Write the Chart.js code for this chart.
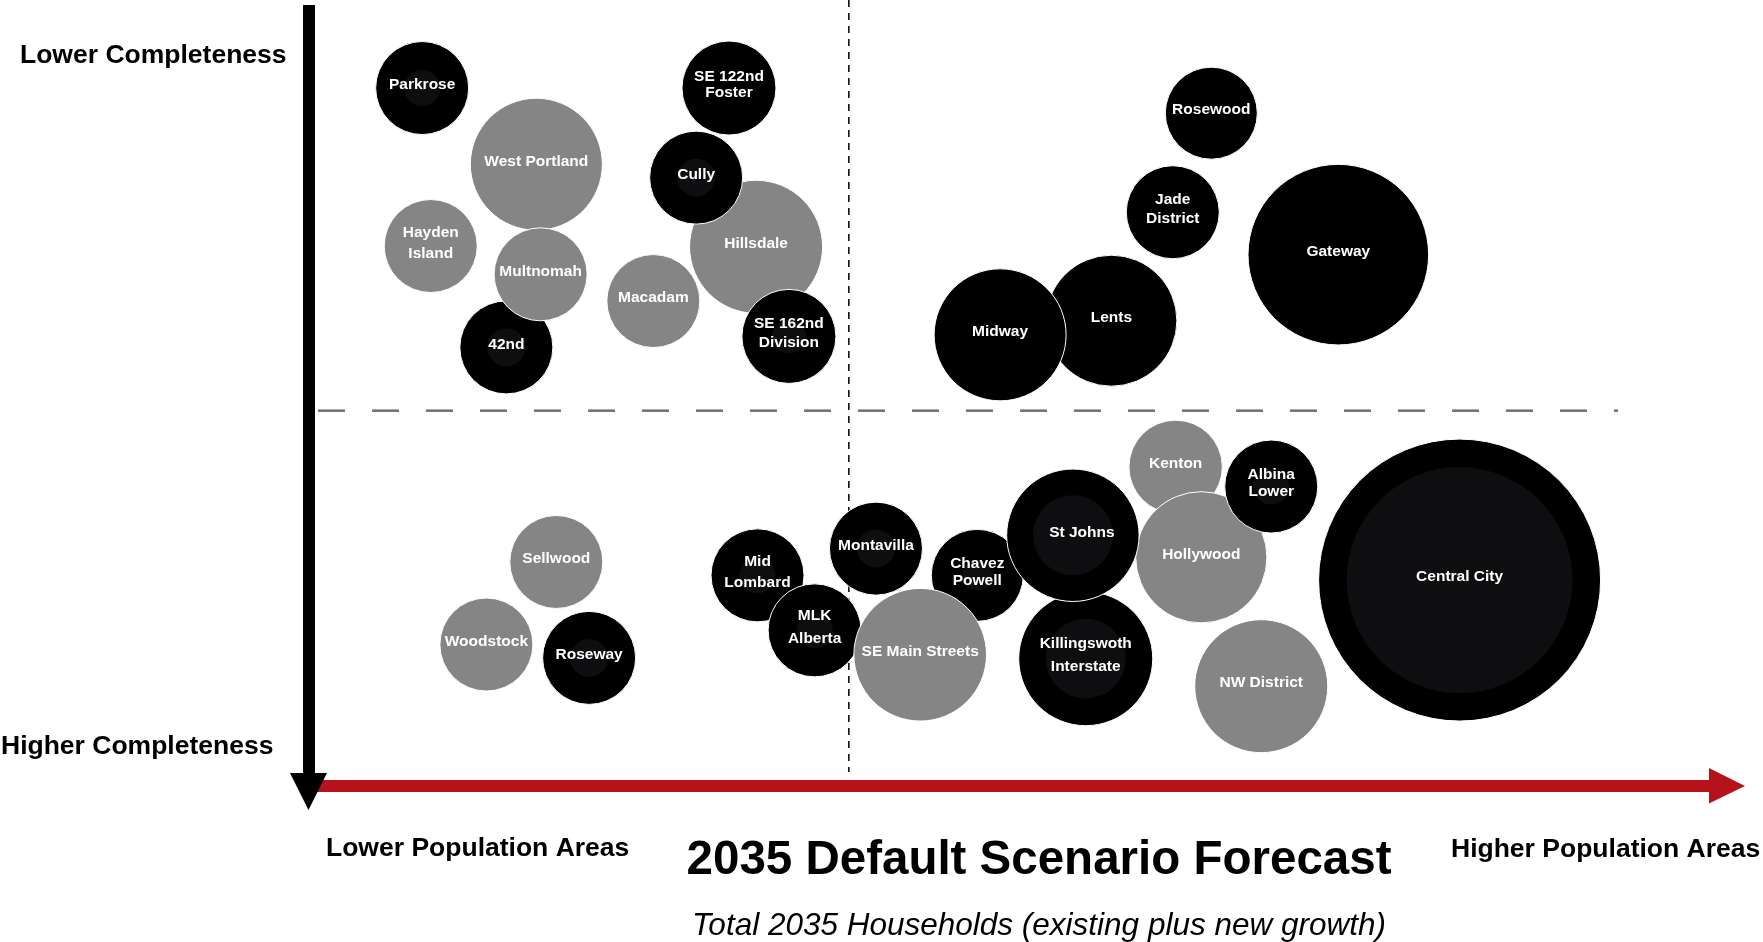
<!DOCTYPE html>
<html>
<head>
<meta charset="utf-8">
<title>2035 Default Scenario Forecast</title>
<script src="https://cdn.jsdelivr.net/npm/chart.js@4.4.1/dist/chart.umd.min.js"></script>
<style>
  html, body { margin: 0; padding: 0; background: #fff; }
  #wrap { width: 1763px; height: 942px; position: relative; }
</style>
</head>
<body>
<div id="wrap"><canvas id="chartForecast"></canvas></div>
<script>
// listed in drawing order (later ones sit on top)
const areas = [
  'Kenton', 'Hollywood', 'Albina\nLower', 'Killingswoth\nInterstate', 'Chavez\nPowell',
  'St Johns', 'Montavilla', 'Mid\nLombard', 'MLK\nAlberta', 'SE Main Streets',
  'NW District', 'Central City', 'Sellwood', 'Woodstock', 'Roseway',
  'Hillsdale', 'Macadam', 'Cully', 'SE 162nd\nDivision', 'SE 122nd\nFoster',
  'West Portland', 'Hayden\nIsland', '42nd', 'Multnomah', 'Parkrose',
  'Lents', 'Midway', 'Jade\nDistrict', 'Rosewood', 'Gateway',
]
// horizontal: total 2035 households (relative, 0 = lower, 100 = higher)
const households = [
  60.1, 61.9, 66.8, 53.8, 46.2,
  52.9, 39.1, 30.8, 34.8, 42.2,
  66.1, 80.0, 16.7, 11.8, 19.0,
  30.7, 23.5, 26.5, 33.0, 28.8,
  15.3, 7.9, 13.2, 15.6, 7.3,
  55.6, 47.8, 59.9, 62.6, 71.5,
]
// vertical: 100 = lower completeness, 0 = higher completeness
const completeness = [
  40.6, 29.1, 38.1, 16.2, 26.8,
  31.9, 30.2, 26.8, 19.8, 16.7,
  12.7, 26.2, 28.5, 18.0, 16.3,
  68.6, 61.7, 77.4, 57.2, 88.8,
  79.1, 68.7, 55.8, 65.1, 88.8,
  59.2, 57.4, 73.0, 85.6, 67.6,
]
// bubble size (radius)
const bubbleSize = [
  46.7, 65.6, 46.5, 67, 46,
  66.2, 46.5, 46.5, 46.5, 66.3,
  66.5, 141, 46.5, 46.5, 46.5,
  66.5, 46.5, 46.5, 47, 47,
  66, 46.5, 46.5, 46.5, 46.5,
  65.5, 66, 46.5, 46, 90.3,
]
// inner (existing) circle size, 0 = none visible
const innerSize = [
  0, 0, 18, 40, 15,
  40, 19, 18, 18, 0,
  0, 113, 0, 0, 19,
  0, 0, 19, 17, 0,
  0, 0, 19, 0, 18,
  0, 0, 0, 0, 0,
]
// 'dark' or 'light' group
const group = [
  'light', 'light', 'dark', 'dark', 'dark',
  'dark', 'dark', 'dark', 'dark', 'light',
  'light', 'dark', 'light', 'light', 'dark',
  'light', 'light', 'dark', 'dark', 'dark',
  'light', 'light', 'dark', 'light', 'dark',
  'dark', 'dark', 'dark', 'dark', 'dark',
]
const xSplit = 37.2
const ySplit = 47.75

document.addEventListener('DOMContentLoaded', function () {
  const FONT = "'Liberation Sans', Arial, Helvetica, sans-serif"
  const colors = { dark: '#000000', light: '#858585' }
  // label line spacing / nudges, by area
  const lineGap = {
    'Killingswoth\nInterstate': 23, 'MLK\nAlberta': 23, 'Mid\nLombard': 21, 'Hayden\nIsland': 21,
    'Albina\nLower': 17, 'Chavez\nPowell': 17, 'SE 122nd\nFoster': 16,
  }
  const nudgeX = { 'St Johns': 9 }
  const ctx = document.getElementById('chartForecast').getContext('2d')

  const points = areas.map((name, i) => ({
    x: households[i],
    y: completeness[i],
    r: bubbleSize[i],
  }))
  const innerPoints = areas
    .map((name, i) => ({ x: households[i], y: completeness[i], r: innerSize[i] }))
    .filter(p => p.r > 0)

  const quadrants = {
    id: 'quadrants',
    beforeDatasetsDraw(chart) {
      const { ctx, chartArea, scales } = chart
      const yPix = scales.y.getPixelForValue(ySplit)
      const xPix = scales.x.getPixelForValue(xSplit)
      ctx.save()
      ctx.strokeStyle = '#707070'
      ctx.lineWidth = 2.5
      ctx.setLineDash([27, 27])
      ctx.beginPath()
      ctx.moveTo(chartArea.left, yPix)
      ctx.lineTo(chartArea.left + 1300, yPix)
      ctx.stroke()
      ctx.strokeStyle = '#000'
      ctx.lineWidth = 1.5
      ctx.setLineDash([7, 6])
      ctx.beginPath()
      ctx.moveTo(xPix, chartArea.top)
      ctx.lineTo(xPix, chartArea.bottom - 14)
      ctx.stroke()
      ctx.restore()
    },
  }

  const labels = {
    id: 'labels',
    afterDatasetsDraw(chart) {
      const { ctx } = chart
      const meta = chart.getDatasetMeta(1)
      ctx.save()
      ctx.fillStyle = '#ffffff'
      ctx.font = `bold 15.5px ${FONT}`
      ctx.textAlign = 'center'
      ctx.textBaseline = 'middle'
      meta.data.forEach((el, i) => {
        const lines = areas[i].split('\n')
        const lh = lineGap[areas[i]] || 19
        const x = el.x + (nudgeX[areas[i]] || 0)
        const y0 = el.y - 3 - ((lines.length - 1) * lh) / 2
        lines.forEach((t, k) => ctx.fillText(t, x, y0 + k * lh))
      })
      ctx.restore()
    },
  }

  const decor = {
    id: 'decor',
    afterDraw(chart) {
      const { ctx } = chart
      ctx.save()
      // red population arrow
      ctx.fillStyle = '#b5121b'
      ctx.fillRect(316, 780, 1394, 12)
      ctx.beginPath()
      ctx.moveTo(1709, 768)
      ctx.lineTo(1745, 786)
      ctx.lineTo(1709, 803.5)
      ctx.closePath()
      ctx.fill()
      // black completeness arrow
      ctx.fillStyle = '#000'
      ctx.fillRect(303, 5, 12, 772)
      ctx.beginPath()
      ctx.moveTo(290, 773)
      ctx.lineTo(327, 773)
      ctx.lineTo(308.5, 810)
      ctx.closePath()
      ctx.fill()

      ctx.fillStyle = '#000'
      ctx.textBaseline = 'alphabetic'
      ctx.textAlign = 'left'
      ctx.font = `bold 26.5px ${FONT}`
      ctx.fillText('Lower Completeness', 20, 63)
      ctx.fillText('Higher Completeness', 1, 754)
      ctx.fillText('Lower Population Areas', 326, 856)
      ctx.fillText('Higher Population Areas', 1451, 857)

      ctx.textAlign = 'center'
      ctx.font = `bold 47.5px ${FONT}`
      ctx.fillText('2035 Default Scenario Forecast', 1039, 874)
      ctx.font = `italic 31.5px ${FONT}`
      ctx.fillText('Total 2035 Households (existing plus new growth)', 1039, 935)
      ctx.restore()
    },
  }

  new Chart(ctx, {
    type: 'bubble',
    data: {
      labels: areas,
      datasets: [
        {
          label: 'Existing',
          data: innerPoints,
          backgroundColor: '#0e0e10',
          borderWidth: 0,
          clip: false,
        },
        {
          label: '2035 Households',
          data: points,
          backgroundColor: areas.map((a, i) => colors[group[i]]),
          borderColor: '#ffffff',
          borderWidth: 1,
          clip: false,
        },
      ],
    },
    options: {
      responsive: true,
      maintainAspectRatio: false,
      animation: false,
      events: [],
      layout: {
        autoPadding: false,
        padding: { left: 318, right: 18, top: 0, bottom: 156 },
      },
      scales: {
        x: { type: 'linear', min: 0, max: 100, display: false },
        y: { type: 'linear', min: 0, max: 100, display: false },
      },
      plugins: {
        legend: { display: false },
        tooltip: { enabled: false },
      },
    },
    plugins: [quadrants, labels, decor],
  })
})
</script>
</body>
</html>
